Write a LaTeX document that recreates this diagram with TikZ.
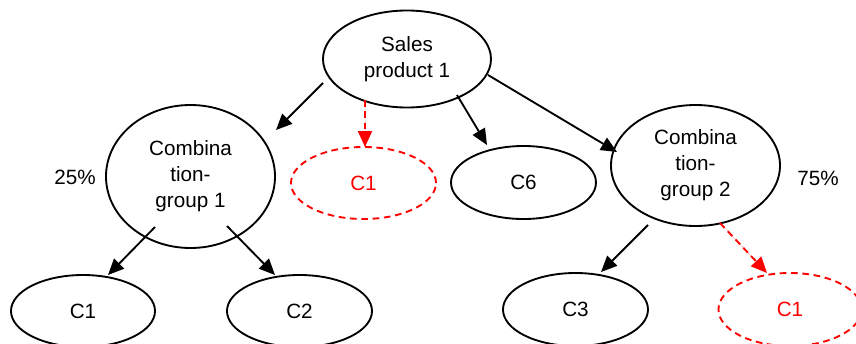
\documentclass[tikz,border=0pt]{standalone}
\usepackage{fontspec}
\setmainfont{Liberation Sans}
\usetikzlibrary{shapes.geometric,arrows.meta}
\definecolor{pured}{RGB}{255,0,0}
\tikzset{
  el/.style={ellipse, draw, line width=1.4pt, inner sep=0pt, outer sep=0pt, align=center,
    font=\fontsize{15.5}{19.5}\selectfont},
  redel/.style={el, draw=pured, text=pured, dash pattern=on 5pt off 3.5pt},
  conn/.style={line width=1.4pt, -{Triangle[length=12pt,width=10.5pt]}},
  redconn/.style={conn, draw=pured, fill=pured, dash pattern=on 5pt off 3.5pt},
  lbl/.style={font=\fontsize{15.5}{19.5}\selectfont}
}
\begin{document}
\begin{tikzpicture}[x=0.75pt,y=-0.75pt]
\useasboundingbox (0,0) rectangle (856,343);
\clip (0,0) rectangle (856,343);
% nodes
\node[el, minimum width=126pt, minimum height=72.75pt] (sp) at (407,59) {Sales\\product 1};
\node[el, minimum width=126.75pt, minimum height=107.25pt] (cg1) at (190.5,176.5) {Combina\\tion-\\group 1};
\node[redel, minimum width=108.75pt, minimum height=54pt] (c1a) at (363.5,183) {C1};
\node[el, minimum width=108.75pt, minimum height=54.75pt] (c6) at (523.5,182.5) {C6};
\node[el, minimum width=126.75pt, minimum height=90.75pt] (cg2) at (695.5,165.5) {Combina\\tion-\\group 2};
\node[el, minimum width=108pt, minimum height=54pt] (c1b) at (83,311) {C1};
\node[el, minimum width=108.75pt, minimum height=54pt] (c2) at (299.5,311) {C2};
\node[el, minimum width=108.75pt, minimum height=54.75pt] (c3) at (575.5,309.5) {C3};
\node[redel, minimum width=107.25pt, minimum height=54.75pt] (c1c) at (790,309.5) {C1};
\node[lbl] (p25) at (75,177) {25\%};
\node[lbl] (p75) at (818,178) {75\%};
% connector end points
\coordinate (a1s) at (323,83);  \coordinate (a1e) at (276,130);
\coordinate (a2s) at (365,100); \coordinate (a2e) at (365,147);
\coordinate (a3s) at (457,95);  \coordinate (a3e) at (487,145);
\coordinate (a4s) at (488,75);  \coordinate (a4e) at (617,152);
\coordinate (b1s) at (155,227); \coordinate (b1e) at (108,275);
\coordinate (b2s) at (227,226); \coordinate (b2e) at (275,275);
\coordinate (c1s) at (648,225); \coordinate (c1e) at (601,272);
\coordinate (c2s) at (720,223); \coordinate (c2e) at (767,273);
% connectors
\draw[conn] (a1s) -- (a1e);
\draw[redconn] (a2s) -- (a2e);
\draw[conn] (a3s) -- (a3e);
\draw[conn] (a4s) -- (a4e);
\draw[conn] (b1s) -- (b1e);
\draw[conn] (b2s) -- (b2e);
\draw[conn] (c1s) -- (c1e);
\draw[redconn] (c2s) -- (c2e);
\end{tikzpicture}
\end{document}
